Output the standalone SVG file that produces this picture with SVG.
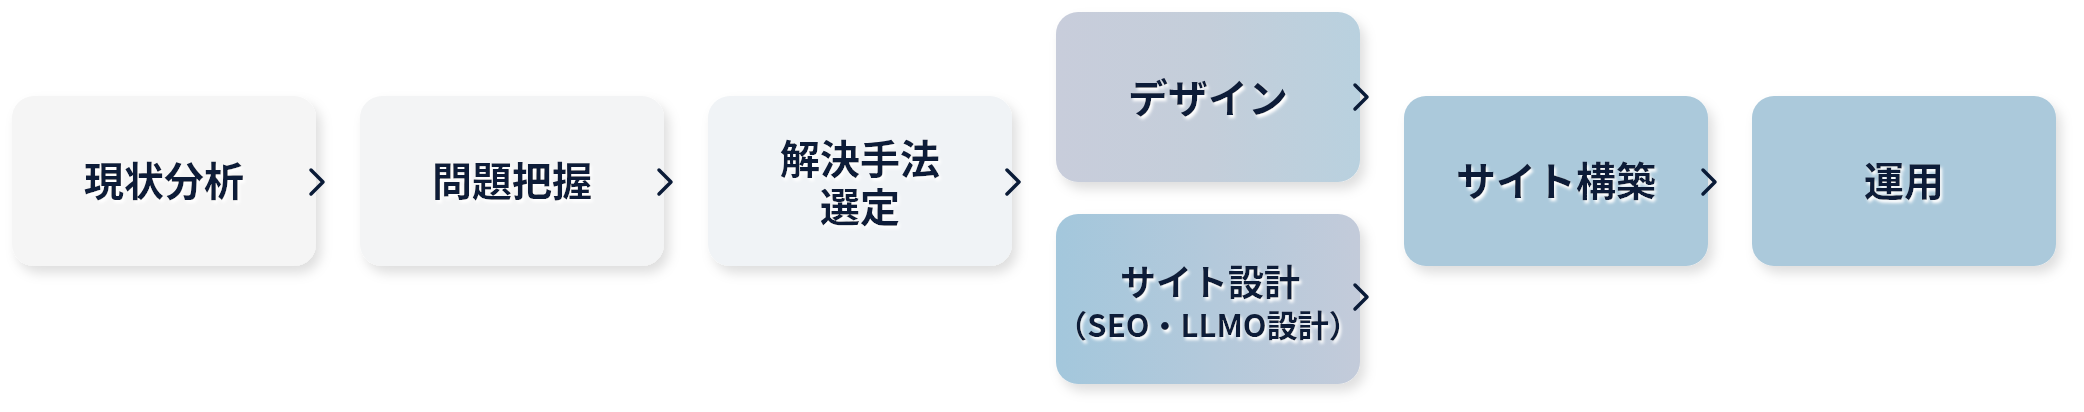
<svg xmlns="http://www.w3.org/2000/svg" width="2084" height="412" viewBox="0 0 2084 412">
  <style>
    .box { filter: url(#boxShadow); }
    .lbl { font-family: "Noto Sans CJK JP", "Noto Sans", sans-serif; font-weight: 700; fill: #0a1b37; text-anchor: middle; filter: url(#textGlow); }
    .l40 { font-size: 40px; }
    .l36 { font-size: 36px; }
    .l31 { font-size: 31px; }
    .chev { fill: none; stroke: #0a1b37; stroke-width: 3.5; stroke-linecap: round; stroke-linejoin: round; }
  </style>
  <defs>
    <filter id="boxShadow" x="-10%" y="-15%" width="125%" height="140%">
      <feDropShadow dx="5" dy="7" stdDeviation="6" flood-color="#000" flood-opacity="0.13"/>
    </filter>
    <filter id="textGlow" x="-10%" y="-30%" width="125%" height="170%">
      <feDropShadow dx="2" dy="3" stdDeviation="1.6" flood-color="#ffffff" flood-opacity="1"/>
    </filter>
    <linearGradient id="gDesign" x1="0" y1="0" x2="1" y2="0">
      <stop offset="0" stop-color="#c8cddb"/>
      <stop offset="0.5" stop-color="#c4ceda"/>
      <stop offset="1" stop-color="#b9d1df"/>
    </linearGradient>
    <linearGradient id="gSite" x1="0" y1="0" x2="1" y2="0">
      <stop offset="0" stop-color="#a3c7dc"/>
      <stop offset="1" stop-color="#c3cbda"/>
    </linearGradient>
    <path id="chevron" d="M -5 -12 L 7 0 L -5 12"/>
  </defs>

  <g id="node-genjo">
    <rect class="box" x="12" y="96" width="304" height="170" rx="22" fill="#f5f5f5"/>
    <text class="lbl l40" x="164" y="196">現状分析</text>
  </g>
  <g id="node-mondai">
    <rect class="box" x="360" y="96" width="304" height="170" rx="22" fill="#f3f4f5"/>
    <text class="lbl l40" x="512" y="196">問題把握</text>
  </g>
  <g id="node-kaiketsu">
    <rect class="box" x="708" y="96" width="304" height="170" rx="22" fill="#f0f3f6"/>
    <text class="lbl l40" x="860" y="174">解決手法</text>
    <text class="lbl l40" x="860" y="222">選定</text>
  </g>
  <g id="node-design">
    <rect class="box" x="1056" y="12" width="304" height="170" rx="22" fill="url(#gDesign)"/>
    <text class="lbl l40" x="1208" y="113">デザイン</text>
  </g>
  <g id="node-sitesekkei">
    <rect class="box" x="1056" y="214" width="304" height="170" rx="22" fill="url(#gSite)"/>
    <text class="lbl l36" x="1210" y="296">サイト設計</text>
    <text class="lbl l31" x="1208" y="337">（SEO・LLMO設計）</text>
  </g>
  <g id="node-kochiku">
    <rect class="box" x="1404" y="96" width="304" height="170" rx="22" fill="#abc9db"/>
    <text class="lbl l40" x="1556" y="196">サイト構築</text>
  </g>
  <g id="node-unyo">
    <rect class="box" x="1752" y="96" width="304" height="170" rx="22" fill="#abc9db"/>
    <text class="lbl l40" x="1904" y="196">運用</text>
  </g>

  <g id="connectors">
    <use href="#chevron" class="chev" transform="translate(316,182)"/>
    <use href="#chevron" class="chev" transform="translate(664,182)"/>
    <use href="#chevron" class="chev" transform="translate(1012,182)"/>
    <use href="#chevron" class="chev" transform="translate(1360,97)"/>
    <use href="#chevron" class="chev" transform="translate(1360,297)"/>
    <use href="#chevron" class="chev" transform="translate(1708,182)"/>
  </g>
</svg>
